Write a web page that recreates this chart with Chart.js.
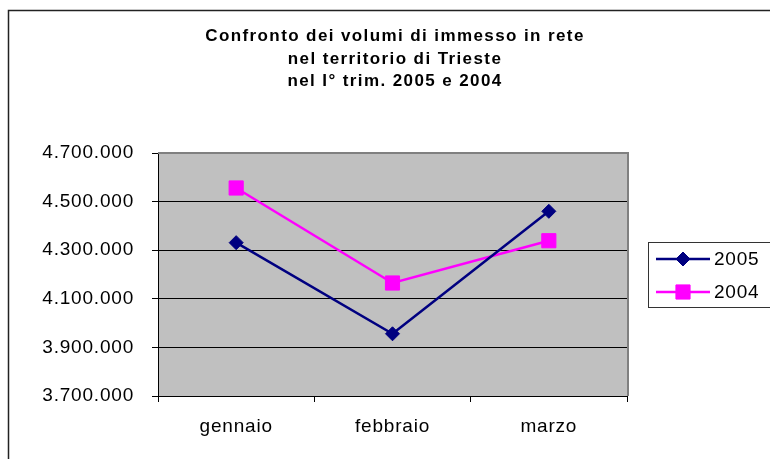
<!DOCTYPE html>
<html lang="it">
<head>
<meta charset="utf-8">
<title>Confronto dei volumi di immesso in rete</title>
<script src="https://cdn.jsdelivr.net/npm/chart.js@4.4.1/dist/chart.umd.min.js"></script>
<style>
    html, body { margin: 0; padding: 0; background: #ffffff; }
    #grafico { display: block; }
</style>
</head>
<body>
<canvas id="grafico" width="770" height="459"></canvas>
<script>
// Dati
const mesi = ['gennaio', 'febbraio', 'marzo'];
const volumi2005 = [4331000, 3956000, 4460000];
const volumi2004 = [4556000, 4165000, 4339000];
const titolo = [
    'Confronto dei volumi di immesso in rete',
    'nel territorio di Trieste',
    'nel I° trim. 2005 e 2004'
];
const asseMin = 3700000;
const asseMax = 4700000;
const passo = 200000;

const FONT = "'Liberation Sans', Arial, sans-serif";

// formato italiano con i punti (4.700.000)
function formatta(v) {
    return String(Math.round(v)).replace(/\B(?=(\d{3})+(?!\d))/g, '.');
}

// sfondo grigio, cornice esterna, titolo e legenda
const decorazioni = {
    id: 'decorazioni',
    beforeDraw(chart) {
        const ctx = chart.ctx;
        const a = chart.chartArea;
        ctx.letterSpacing = '0.8px';
        ctx.save();
        ctx.fillStyle = '#ffffff';
        ctx.fillRect(0, 0, chart.width, chart.height);
        ctx.strokeStyle = '#222222';
        ctx.lineWidth = 1.5;
        ctx.strokeRect(8.5, 10.5, 800, 480);
        ctx.fillStyle = '#c0c0c0';
        ctx.fillRect(a.left, a.top, a.right - a.left, a.bottom - a.top);
        ctx.restore();
    },
    beforeDatasetsDraw(chart) {
        const ctx = chart.ctx;
        const a = chart.chartArea;
        ctx.save();
        ctx.strokeStyle = '#808080';
        ctx.lineWidth = 2;
        ctx.beginPath();
        ctx.moveTo(a.left, a.top);
        ctx.lineTo(a.right + 1, a.top);
        ctx.lineTo(a.right + 1, a.bottom);
        ctx.stroke();
        ctx.restore();
    },
    afterDraw(chart) {
        const ctx = chart.ctx;
        ctx.save();
        // titolo
        ctx.letterSpacing = '1.4px';
        ctx.fillStyle = '#000000';
        ctx.font = 'bold 17px ' + FONT;
        ctx.textAlign = 'center';
        ctx.textBaseline = 'alphabetic';
        titolo.forEach((riga, i) => {
            ctx.fillText(riga, 395, 41 + i * 22.5);
        });
        // legenda
        ctx.letterSpacing = '0.8px';
        ctx.strokeStyle = '#333333';
        ctx.lineWidth = 1;
        ctx.strokeRect(648.5, 242.5, 150, 65);
        ctx.font = '19px ' + FONT;
        ctx.textAlign = 'left';
        ctx.textBaseline = 'middle';
        chart.data.datasets.forEach((ds, i) => {
            const y = 259 + i * 33;
            ctx.strokeStyle = ds.borderColor;
            ctx.lineWidth = ds.borderWidth;
            ctx.beginPath();
            ctx.moveTo(656, y);
            ctx.lineTo(710, y);
            ctx.stroke();
            ctx.fillStyle = ds.pointBackgroundColor;
            ctx.strokeStyle = ds.pointBorderColor;
            ctx.lineWidth = ds.pointBorderWidth;
            Chart.helpers.drawPoint(ctx, {
                pointStyle: ds.pointStyle,
                radius: ds.pointRadius,
                rotation: 0,
                borderWidth: ds.pointBorderWidth
            }, 683, y);
            ctx.fillStyle = '#000000';
            ctx.fillText(ds.label, 714, y + 1);
        });
        ctx.restore();
    }
};

const ctx = document.getElementById('grafico').getContext('2d');

const grafico = new Chart(ctx, {
    type: 'line',
    data: {
        labels: mesi,
        datasets: [
            {
                label: '2005',
                data: volumi2005,
                borderColor: '#000080',
                backgroundColor: '#000080',
                pointBackgroundColor: '#000080',
                pointBorderColor: '#000080',
                borderWidth: 2.5,
                pointStyle: 'rectRot',
                pointRadius: 7,
                pointBorderWidth: 1,
                tension: 0
            },
            {
                label: '2004',
                data: volumi2004,
                borderColor: '#ff00ff',
                backgroundColor: '#ff00ff',
                pointBackgroundColor: '#ff00ff',
                pointBorderColor: '#ff00ff',
                borderWidth: 2.5,
                pointStyle: 'rect',
                pointRadius: 10,
                pointBorderWidth: 1,
                tension: 0
            }
        ]
    },
    options: {
        responsive: false,
        animation: false,
        layout: {
            padding: { top: 153, right: 143, bottom: 0, left: 0 }
        },
        plugins: {
            legend: { display: false },
            title: { display: false },
            tooltip: { enabled: false }
        },
        scales: {
            x: {
                offset: true,
                afterFit(scale) { scale.height = 63; },
                grid: {
                    offset: true,
                    drawOnChartArea: false,
                    color: '#000000',
                    tickLength: 6
                },
                border: { display: true, color: '#000000', width: 1 },
                ticks: {
                    color: '#000000',
                    padding: 13,
                    font: { family: FONT, size: 19 }
                }
            },
            y: {
                min: asseMin,
                max: asseMax,
                afterFit(scale) { scale.width = 158; },
                grid: {
                    color: (c) => c.tick && c.tick.value === asseMax ? '#808080' : '#000000',
                    lineWidth: 1,
                    tickLength: 6,
                    tickColor: '#000000'
                },
                border: { display: true, color: '#000000', width: 1 },
                ticks: {
                    stepSize: passo,
                    color: '#000000',
                    padding: 18,
                    font: { family: FONT, size: 19 },
                    callback: (v) => formatta(v)
                }
            }
        }
    },
    plugins: [decorazioni]
});
</script>
</body>
</html>
